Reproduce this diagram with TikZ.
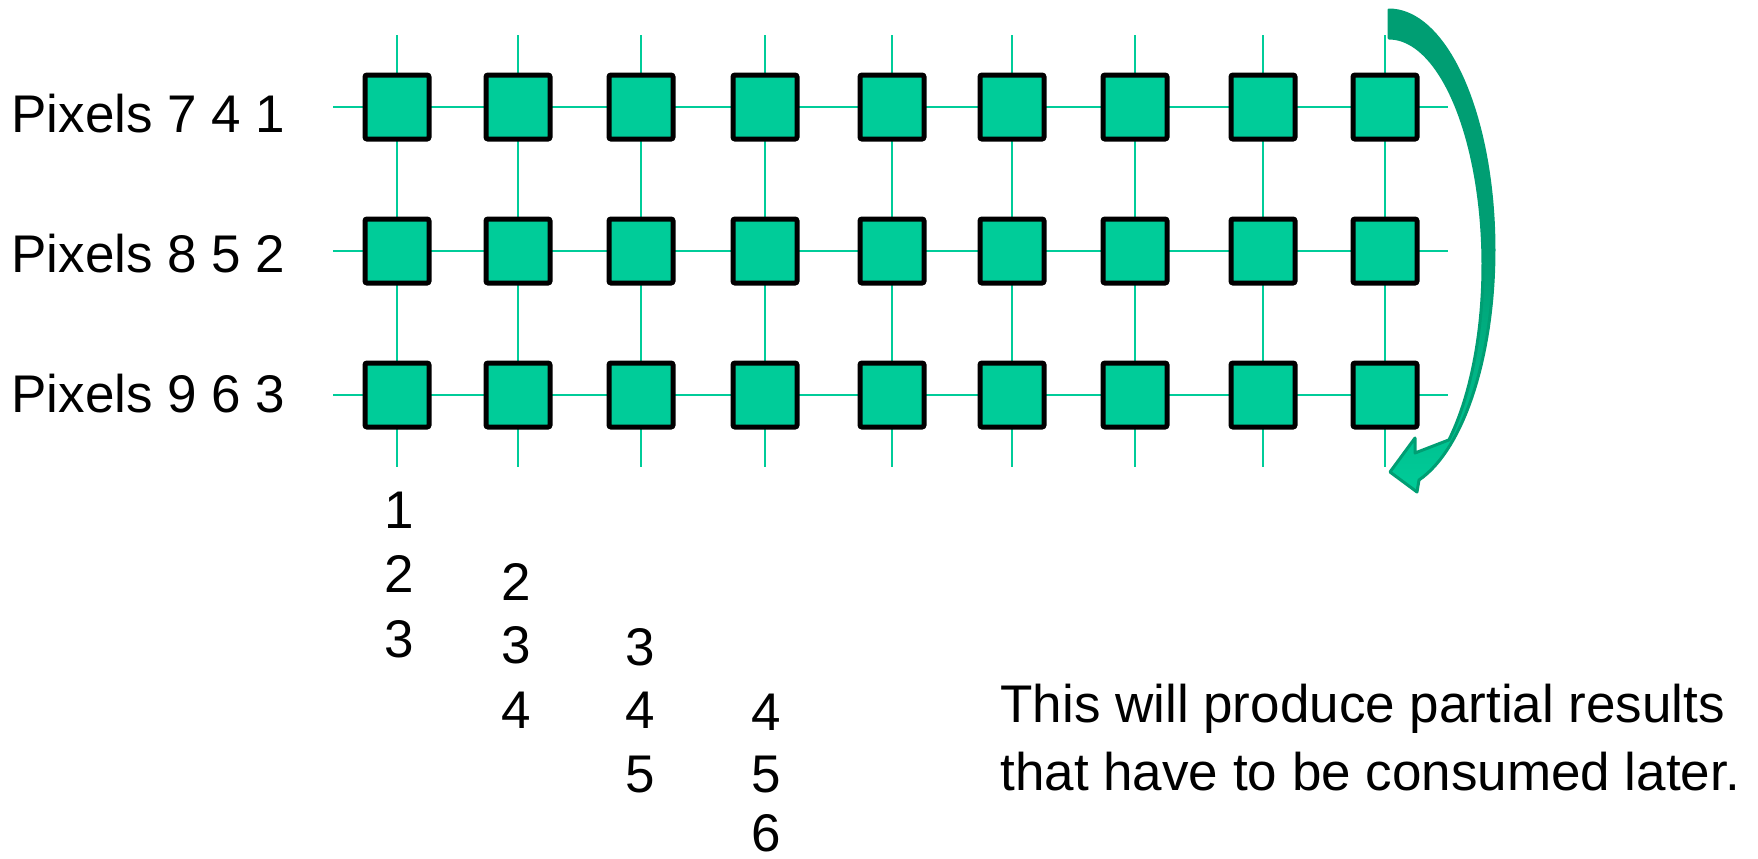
\documentclass[tikz,border=0pt]{standalone}
\usepackage{fontspec}
\setmainfont{Liberation Sans}
\definecolor{pe}{HTML}{00CC99}
\definecolor{adark}{HTML}{009E73}
\begin{document}
\begin{tikzpicture}[x=0.5pt,y=-0.5pt,
  pebox/.style={draw=black, line width=2.5pt, fill=pe, minimum size=32pt, inner sep=0pt, rounded corners=1pt},
  wire/.style={draw=pe, line width=1pt},
  lbl/.style={font=\fontsize{26.5}{32}\selectfont, inner sep=0pt, anchor=base west},
  num/.style={font=\fontsize{26.5}{32}\selectfont, inner sep=0pt, anchor=base}]
\useasboundingbox (0,0) rectangle (1758,858);
% grid wires
\foreach \c/\xx in {1/397,2/518,3/641,4/765,5/892,6/1012,7/1135,8/1263,9/1385}{
  \coordinate (t\c) at (\xx,35);
  \coordinate (b\c) at (\xx,467);
  \draw[wire] (t\c) -- (b\c);
}
\foreach \r/\yy in {1/107,2/251,3/395}{
  \coordinate (l\r) at (333,\yy);
  \coordinate (r\r) at (1448,\yy);
  \draw[wire] (l\r) -- (r\r);
}
% processing elements
\foreach \r/\yy in {1/107,2/251,3/395}{
  \foreach \c/\xx in {1/397,2/518,3/641,4/765,5/892,6/1012,7/1135,8/1263,9/1385}{
    \node[pebox] (n\r\c) at (\xx,\yy) {};
  }
}
% row labels
\node[lbl] (p1) at (11,132) {Pixels 7 4 1};
\node[lbl] (p2) at (11,272) {Pixels 8 5 2};
\node[lbl] (p3) at (11,412) {Pixels 9 6 3};
% column numbers
\node[num] (c11) at (399,528) {1};
\node[num] (c12) at (399,592) {2};
\node[num] (c13) at (399,657) {3};
\node[num] (c22) at (516,600) {2};
\node[num] (c23) at (516,663) {3};
\node[num] (c24) at (516,728) {4};
\node[num] (c33) at (640,665) {3};
\node[num] (c34) at (640,728) {4};
\node[num] (c35) at (640,792) {5};
\node[num] (c44) at (766,730) {4};
\node[num] (c45) at (766,792) {5};
\node[num] (c46) at (766,851) {6};
% note
\node[lbl] (note1) at (1000,722) {This will produce partial results};
\node[lbl] (note2) at (1000,790) {that have to be consumed later.};
% curved arrow
\path[draw=adark, line width=1.5pt, line join=round, top color=adark, bottom color=pe, middle color=adark]
  plot[domain=90:-73.4, samples=70] ({1389+105*cos(\x)},{250-240*sin(\x)})
  -- (1417,492) -- (1390,472) -- (1415,438) -- (1415,453)
  -- plot[domain=-50.4:90, samples=70] ({1389+94*cos(\x)},{265-227*sin(\x)})
  -- cycle;
\end{tikzpicture}
\end{document}
